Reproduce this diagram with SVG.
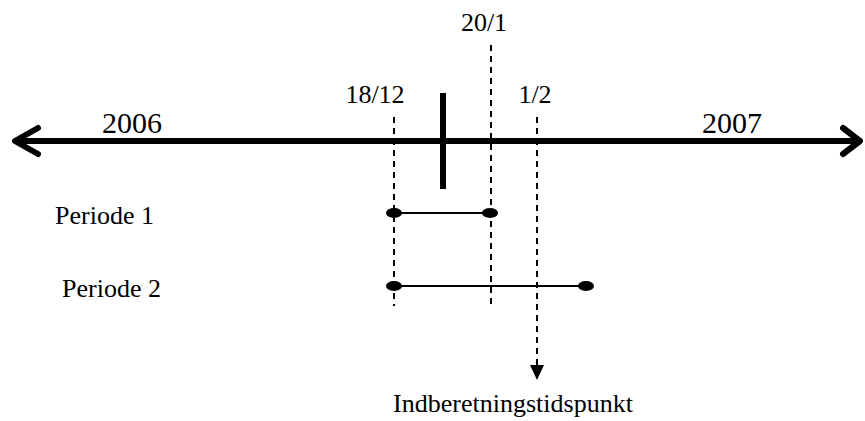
<svg xmlns="http://www.w3.org/2000/svg" width="865" height="421" viewBox="0 0 865 421">
<style>
.t{font-family:"Liberation Serif","Times New Roman",serif;fill:#000}
.s{font-size:26px}
.y{font-size:30px}
.d{stroke:#000;stroke-width:2;stroke-dasharray:6,5;fill:none}
.p{stroke:#000;stroke-width:2;fill:none}
.dot{fill:#000}
</style>
<rect width="865" height="421" fill="#fff"/>
<g id="connectors">
<line x1="15" y1="141" x2="858" y2="141" stroke="#000" stroke-width="6"/>
<polyline points="38,128 15,141 38,154" fill="none" stroke="#000" stroke-width="6" stroke-linecap="round" stroke-linejoin="round"/>
<polyline points="843,128 860,141 843,154" fill="none" stroke="#000" stroke-width="6" stroke-linecap="round" stroke-linejoin="round"/>
<line x1="443" y1="93" x2="443" y2="189" stroke="#000" stroke-width="6"/>
<line class="d" x1="394" y1="117" x2="394" y2="306"/>
<line class="d" x1="491" y1="45" x2="491" y2="306"/>
<line class="d" x1="537" y1="117" x2="537" y2="366"/>
<polygon points="530,365 544,365 537,380" fill="#000"/>
</g>
<g id="year2006"><text class="t y" x="102" y="133">2006</text></g>
<g id="year2007"><text class="t y" x="702" y="133">2007</text></g>
<g id="d1812"><text class="t s" x="375" y="103" text-anchor="middle">18/12</text></g>
<g id="d201"><text class="t s" x="484" y="31" text-anchor="middle">20/1</text></g>
<g id="d12"><text class="t s" x="535" y="103" text-anchor="middle">1/2</text></g>
<g id="periode1">
<text class="t s" x="55" y="224">Periode 1</text>
<line class="p" x1="394" y1="213" x2="490" y2="213"/>
<ellipse class="dot" cx="394" cy="213" rx="8" ry="5"/>
<ellipse class="dot" cx="490" cy="213" rx="8" ry="5"/>
</g>
<g id="periode2">
<text class="t s" x="62" y="297">Periode 2</text>
<line class="p" x1="394" y1="286" x2="586" y2="286"/>
<ellipse class="dot" cx="394" cy="286" rx="8" ry="5"/>
<ellipse class="dot" cx="586" cy="286" rx="8" ry="5"/>
</g>
<g id="indberetning"><text class="t s" x="513" y="412" text-anchor="middle">Indberetningstidspunkt</text></g>
</svg>
